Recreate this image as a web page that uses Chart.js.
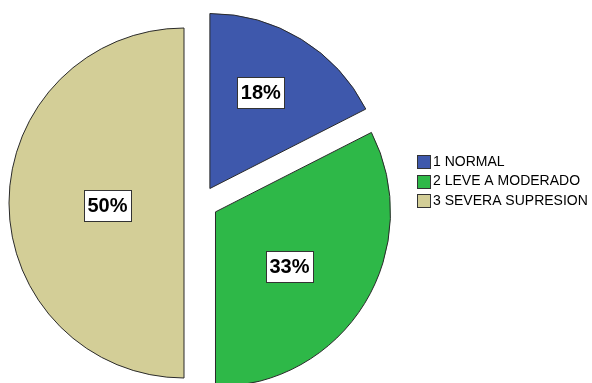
<!DOCTYPE html>
<html><head><meta charset="utf-8">
<script src="https://cdn.jsdelivr.net/npm/chart.js@4/dist/chart.umd.min.js"></script>
<style>html,body{margin:0;padding:0;background:#fff;}#wrap{position:relative;width:592px;height:383px;}</style>
</head><body><div id="wrap"><canvas id="c" width="592" height="383"></canvas></div>
<script>
// ---- data ----
const categories = ['1 NORMAL', '2 LEVE A MODERADO', '3 SEVERA SUPRESION'];
const percentages = [17.5, 32.5, 50];
const percentLabels = ['18%', '33%', '50%'];
const colors = ['#3E58AC', '#2EB848', '#D3CE97'];

// ---- style ----
const EXPLODE = 17;                    // px each slice is pulled out from the centre
const LABEL_DIST = [0.717, 0.622, 0.535];  // fraction of radius from the true centre
const LABEL_TURN = [-3, 4.2, -1.7];        // degrees off the slice's mid angle
const FONT = '"Liberation Sans", Arial, Helvetica, sans-serif';
const LEGEND = {x: 417, y: 161.5, step: 19.5, box: 13, gap: 3};

// Explode slices: shift each arc along its mid angle while drawing, then restore.
const explodePlugin = {
  id: 'explode',
  beforeDatasetsDraw(chart) {
    chart.getDatasetMeta(0).data.forEach(arc => {
      const mid = (arc.startAngle + arc.endAngle) / 2;
      arc._base = {x: arc.x, y: arc.y};
      arc.x += Math.cos(mid) * EXPLODE;
      arc.y += Math.sin(mid) * EXPLODE;
    });
  },
  afterDatasetsDraw(chart) {
    chart.getDatasetMeta(0).data.forEach(arc => {
      if (arc._base) { arc.x = arc._base.x; arc.y = arc._base.y; delete arc._base; }
    });
  }
};

const labelPlugin = {
  id: 'pctLabels',
  afterDatasetsDraw(chart) {
    const ctx = chart.ctx;
    chart.getDatasetMeta(0).data.forEach((arc, i) => {
      const mid = (arc.startAngle + arc.endAngle) / 2 + LABEL_TURN[i] * Math.PI / 180;
      const r = arc.outerRadius * LABEL_DIST[i];
      const lx = arc.x + Math.cos(mid) * r;
      const ly = arc.y + Math.sin(mid) * r;
      const txt = percentLabels[i];
      ctx.save();
      ctx.font = 'bold 20px ' + FONT;
      const w = Math.round(ctx.measureText(txt).width + 7);
      const h = 31;
      const bx = Math.round(lx - w / 2) + 0.5, by = Math.round(ly - h / 2) + 0.5;
      ctx.fillStyle = '#ffffff';
      ctx.fillRect(bx, by, w, h);
      ctx.strokeStyle = '#333333';
      ctx.lineWidth = 1;
      ctx.strokeRect(bx, by, w, h);
      ctx.fillStyle = '#000000';
      ctx.textAlign = 'center';
      ctx.textBaseline = 'middle';
      ctx.fillText(txt, lx, ly + 1);
      ctx.restore();
    });
  }
};

const legendPlugin = {
  id: 'sideLegend',
  afterDraw(chart) {
    const ctx = chart.ctx;
    ctx.save();
    ctx.font = '14px ' + FONT;
    ctx.textBaseline = 'middle';
    categories.forEach((c, i) => {
      const cy = LEGEND.y + i * LEGEND.step;
      const bx = LEGEND.x, by = Math.round(cy - LEGEND.box / 2);
      ctx.fillStyle = colors[i];
      ctx.fillRect(bx + 0.5, by + 0.5, LEGEND.box, LEGEND.box);
      ctx.strokeStyle = '#333333';
      ctx.lineWidth = 1;
      ctx.strokeRect(bx + 0.5, by + 0.5, LEGEND.box, LEGEND.box);
      ctx.fillStyle = '#000000';
      ctx.fillText(c, bx + LEGEND.box + LEGEND.gap, cy + 0.5);
    });
    ctx.restore();
  }
};

new Chart(document.getElementById('c'), {
  type: 'pie',
  data: {
    labels: categories,
    datasets: [{
      data: percentages,
      backgroundColor: colors,
      borderColor: '#2a2a2a',
      borderWidth: 1,
      hoverOffset: 0
    }]
  },
  options: {
    responsive: false,
    animation: false,
    events: [],
    radius: 175,
    layout: {padding: {left: 0, right: 190, top: 23, bottom: 0}},
    plugins: {legend: {display: false}, tooltip: {enabled: false}}
  },
  plugins: [explodePlugin, labelPlugin, legendPlugin]
});
</script>
</body></html>
